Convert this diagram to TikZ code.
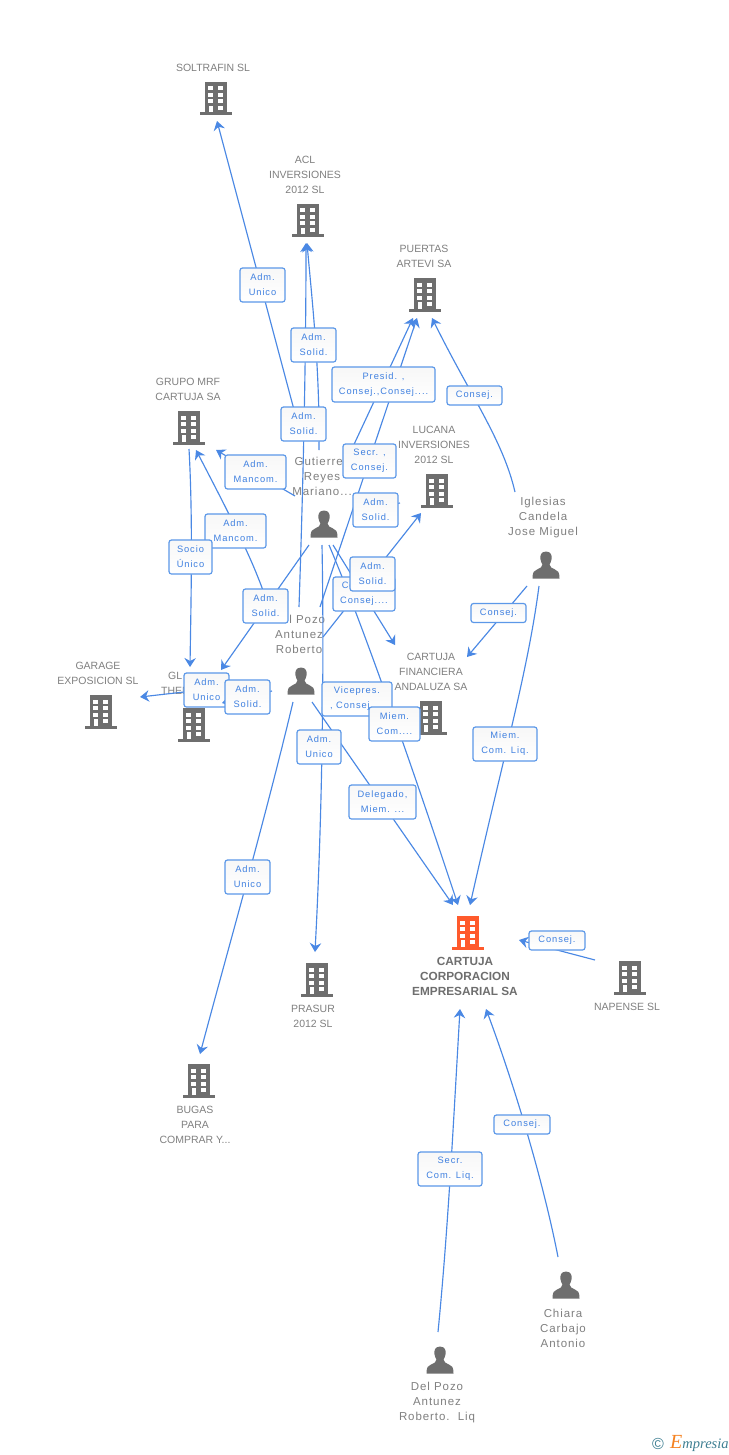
\documentclass[tikz,border=0pt]{standalone}
\usepackage{fontspec}
\setmainfont{Liberation Sans}
\newfontfamily\lblfont[LetterSpace=10]{Liberation Sans}
\newfontfamily\perfont[LetterSpace=8]{Liberation Sans}
\newfontfamily\logofont{Liberation Serif}
\usetikzlibrary{arrows.meta}
\definecolor{icongrey}{HTML}{6E6E6E}
\definecolor{iconorange}{HTML}{FF5A2C}
\definecolor{textgrey}{HTML}{808080}
\definecolor{edgeblue}{HTML}{4A88E4}
\definecolor{boxblue}{HTML}{5C98E8}
\definecolor{lbltext}{HTML}{3F80E0}
\definecolor{logoteal}{HTML}{3E7F92}
\definecolor{logoorange}{HTML}{F58220}
\tikzset{
  x=1pt,y=-1pt,
  edge/.style={draw=edgeblue,line width=1.15pt,-{Stealth[length=9pt,width=11.5pt,inset=3pt]}},
  plainedge/.style={draw=edgeblue,line width=1.15pt},
  lbl/.style={draw=boxblue,line width=1.2pt,rounded corners=2.5pt,fill=white,top color=black!3,bottom color=white,
    text=lbltext,font=\lblfont\fontsize{9.3}{15}\selectfont,align=center,inner sep=0pt},
  comp/.style={text=textgrey,font=\fontsize{10.5}{15}\selectfont,align=center,inner sep=0pt},
  main/.style={text=icongrey,font=\bfseries\fontsize{11.8}{15}\selectfont,align=center,inner sep=0pt},
  pers/.style={text=textgrey,font=\perfont\fontsize{11.5}{15}\selectfont,align=center,inner sep=0pt},
  pics/bldg/.style={code={
    \fill[#1] (-11,-16) rectangle (11,15);
    \fill[#1] (-16,14.5) rectangle (16,17.5);
    \foreach \r in {-11.5,-5,1.5}{
      \fill[white] (-7.8,\r) rectangle (-3,\r+4);
      \fill[white] (2.4,\r) rectangle (7.2,\r+4);
    }
    \fill[white] (-7.4,8) rectangle (-3,14.5);
    \fill[white] (2.4,8) rectangle (7.2,12.2);
  }},
  pics/person/.style={code={
    \fill[icongrey] (0,-13.5) .. controls (-5,-13.5) and (-6.2,-9) .. (-5.6,-6)
      .. controls (-5.2,-3.5) and (-4.2,-1.5) .. (-3.6,-0.5)
      .. controls (-3.6,2.5) and (-6,3) .. (-9,4.5)
      .. controls (-12,5.5) and (-13.5,7) .. (-13.5,13.5)
      -- (13.5,13.5)
      .. controls (13.5,7) and (12,5.5) .. (9,4.5)
      .. controls (6,3) and (3.6,2.5) .. (3.6,-0.5)
      .. controls (4.2,-1.5) and (5.2,-3.5) .. (5.6,-6)
      .. controls (6.2,-9) and (5,-13.5) .. (0,-13.5) -- cycle;
  }}
}
\begin{document}
\begin{tikzpicture}
\useasboundingbox (0,0) rectangle (728,1455);
\fill[white] (0,0) rectangle (728,1455);

% texts
\node[comp] (tSol) at (213,68) {SOLTRAFIN SL};
\node[comp] (tAcl) at (305,175) {ACL\\INVERSIONES\\2012 SL};
\node[comp] (tPue) at (424,256.5) {PUERTAS\\ARTEVI SA};
\node[comp] (tGru) at (188,389.5) {GRUPO MRF\\CARTUJA SA};
\node[comp] (tLuc) at (434,445) {LUCANA\\INVERSIONES\\2012 SL};
\node[comp] (tGar) at (98,673.5) {GARAGE\\EXPOSICION SL};
\node[comp,anchor=north west,align=left] (tGlo) at (161,672) {\hspace{7pt}GL\\THEM};
\node[comp] (tFin) at (431,672) {CARTUJA\\FINANCIERA\\ANDALUZA SA};
\node[main] (tCar) at (465,976) {CARTUJA\\CORPORACION\\EMPRESARIAL SA};
\node[comp] (tNap) at (627,1007) {NAPENSE SL};
\node[comp] (tPra) at (313,1016.5) {PRASUR\\2012 SL};
\node[comp] (tBug) at (195,1125) {BUGAS\\PARA\\COMPRAR Y...};
\node[pers] (tGut) at (322,476) {Gutierrez\\Reyes\\Mariano...};
\node[pers] (tIgl) at (543,518) {Iglesias\\Candela\\Jose Miguel};
\node[pers] (tDel) at (299,634) {Del Pozo\\Antunez\\Roberto};
\node[pers] (tChi) at (563,1328) {Chiara\\Carbajo\\Antonio};
\node[pers] (tLiq) at (437,1403) {Del Pozo\\Antunez\\Roberto.\ \ Liq};

% icons
\pic at (216,98) {bldg=icongrey};
\pic at (308,220) {bldg=icongrey};
\pic at (425,294) {bldg=icongrey};
\pic at (189,427) {bldg=icongrey};
\pic at (437,490) {bldg=icongrey};
\pic at (101,711) {bldg=icongrey};
\pic at (194,724) {bldg=icongrey};
\pic at (431,717) {bldg=icongrey};
\pic at (468,932) {bldg=iconorange};
\pic at (630,977) {bldg=icongrey};
\pic at (317,979) {bldg=icongrey};
\pic at (199,1080) {bldg=icongrey};
\pic at (324,524) {person};
\pic at (546,565) {person};
\pic at (301,681) {person};
\pic at (566,1285) {person};
\pic at (440,1360) {person};

% free ends of connectors
\coordinate (gutSol) at (301,436);
\coordinate (endSol) at (217,121);
\coordinate (gutAcl) at (319,450);
\coordinate (endAclA) at (307,243);
\coordinate (delAcl) at (299,607);
\coordinate (endAclB) at (306,243);
\coordinate (gutPue) at (350,453);
\coordinate (endPueA) at (413,318);
\coordinate (delPue) at (320,607);
\coordinate (endPueB) at (417,318);
\coordinate (iglPue) at (515,492);
\coordinate (endPueC) at (432,318);
\coordinate (gutGru) at (295,496);
\coordinate (endGruA) at (216,450);
\coordinate (delGru) at (270,612);
\coordinate (endGruB) at (196,450);
\coordinate (gruGlo) at (189,449);
\coordinate (endGloA) at (190,667);
\coordinate (gutGlo) at (309,545);
\coordinate (endGloB) at (221,670);
\coordinate (delGloS) at (272,691);
\coordinate (endGloC) at (222,703);
\coordinate (delGar) at (184,692);
\coordinate (endGar) at (140,697);
\coordinate (gutPra) at (322,545);
\coordinate (endPra) at (315,952);
\coordinate (delBug) at (293,702);
\coordinate (endBug) at (200,1054);
\coordinate (delLuc) at (323,637);
\coordinate (endLuc) at (421,513);
\coordinate (gutLuc) at (390,505);
\coordinate (endLucB) at (400,503);
\coordinate (gutFin) at (333,545);
\coordinate (endFin) at (395,645);
\coordinate (iglFin) at (527,586);
\coordinate (endFinB) at (467,657);
\coordinate (gutCar) at (329,545);
\coordinate (endCarA) at (458,905);
\coordinate (delCar) at (312,702);
\coordinate (endCarB) at (453,905);
\coordinate (iglCar) at (539,586);
\coordinate (endCarC) at (470,905);
\coordinate (napCar) at (595,960);
\coordinate (endCarD) at (519,940);
\coordinate (liqCar) at (438,1332);
\coordinate (endCarE) at (460,1009);
\coordinate (chiCar) at (558,1257);
\coordinate (endCarF) at (486,1009);

% connectors
\draw[edge] (gutSol) -- (endSol);
\draw[edge] (gutAcl) .. controls (320,370) and (312,300) .. (endAclA);
\draw[edge] (delAcl) .. controls (304,460) and (306,340) .. (endAclB);
\draw[edge] (gutPue) -- (endPueA);
\draw[edge] (delPue) -- (endPueB);
\draw[edge] (iglPue) .. controls (503,440) and (470,395) .. (endPueC);
\draw[edge] (gutGru) -- (endGruA);
\draw[edge] (delGru) .. controls (258,570) and (235,525) .. (endGruB);
\draw[edge] (gruGlo) .. controls (193,520) and (191,600) .. (endGloA);
\draw[edge] (gutGlo) -- (endGloB);
\draw[edge] (delGar) -- (endGar);
\draw[edge] (gutPra) .. controls (324,650) and (323,800) .. (endPra);
\draw[edge] (delBug) .. controls (265,820) and (225,960) .. (endBug);
\draw[edge] (delLuc) -- (endLuc);
\draw[plainedge] (gutLuc) -- (endLucB);
\draw[edge] (gutFin) -- (endFin);
\draw[edge] (iglFin) -- (endFinB);
\draw[edge] (gutCar) .. controls (365,630) and (420,790) .. (endCarA);
\draw[edge] (delCar) -- (endCarB);
\draw[edge] (iglCar) .. controls (528,670) and (505,750) .. (endCarC);
\draw[edge] (napCar) -- (endCarD);
\draw[edge] (liqCar) .. controls (448,1230) and (453,1130) .. (endCarE);
\draw[edge] (chiCar) .. controls (545,1190) and (518,1095) .. (endCarF);

% connector labels
\node[lbl,minimum width=45pt,minimum height=34pt] (l01) at (262.5,285) {Adm.\\Unico};
\node[lbl,minimum width=45pt,minimum height=34pt] (l02) at (313.5,345) {Adm.\\Solid.};
\node[lbl,minimum width=103pt,minimum height=35pt] (l03) at (383.5,384.5) {Presid. ,\\Consej.,Consej....};
\node[lbl,minimum width=45pt,minimum height=34pt] (l04) at (303.5,424) {Adm.\\Solid.};
\node[lbl,minimum width=53pt,minimum height=34pt] (l05) at (369.5,461) {Secr. ,\\Consej.};
\node[lbl,minimum width=61pt,minimum height=34pt] (l06) at (255.5,472) {Adm.\\Mancom.};
\node[lbl,minimum width=45pt,minimum height=34pt] (l07) at (375.5,510) {Adm.\\Solid.};
\node[lbl,minimum width=61pt,minimum height=34pt] (l08) at (235.5,531) {Adm.\\Mancom.};
\node[lbl,minimum width=43pt,minimum height=34pt] (l09) at (190.5,557) {Socio\\Único};
\node[lbl,minimum width=45pt,minimum height=34pt] (l10) at (265.5,606) {Adm.\\Solid.};
\node[lbl,minimum width=62pt,minimum height=34pt] (l11) at (364,594) {Consej. ,\\Consej....};
\node[lbl,minimum width=45pt,minimum height=34pt] (l12) at (372.5,574) {Adm.\\Solid.};
\node[lbl,minimum width=55pt,minimum height=19pt] (l13) at (498.5,613) {Consej.};
\node[lbl,minimum width=55pt,minimum height=19pt] (l14) at (474.5,395.5) {Consej.};
\node[lbl,minimum width=45pt,minimum height=34pt] (l15) at (206.5,690) {Adm.\\Unico};
\draw[edge] (delGloS) -- (endGloC);
\node[lbl,minimum width=45pt,minimum height=34pt] (l16) at (247.5,697) {Adm.\\Solid.};
\node[lbl,minimum width=70pt,minimum height=34pt] (l17) at (357,699) {Vicepres.\\, Consej....};
\node[lbl,minimum width=51pt,minimum height=34pt] (l18) at (394.5,724) {Miem.\\Com....};
\node[lbl,minimum width=44pt,minimum height=34pt] (l19) at (319,747) {Adm.\\Unico};
\node[lbl,minimum width=67pt,minimum height=34pt] (l20) at (382.5,802) {Delegado,\\Miem. ...};
\node[lbl,minimum width=64pt,minimum height=34pt] (l21) at (505,744) {Miem.\\Com. Liq.};
\node[lbl,minimum width=45pt,minimum height=34pt] (l22) at (247.5,877) {Adm.\\Unico};
\node[lbl,minimum width=56pt,minimum height=19pt] (l23) at (557,940.5) {Consej.};
\node[lbl,minimum width=64pt,minimum height=34pt] (l24) at (450,1169) {Secr.\\Com. Liq.};
\node[lbl,minimum width=56pt,minimum height=19pt] (l25) at (522,1124.5) {Consej.};

% logo
\node[text=logoteal,font=\fontsize{16}{16}\selectfont,inner sep=0pt] (logoC) at (658,1444) {©};
\node[anchor=west,text=logoteal,font=\logofont\itshape\fontsize{14.5}{14}\selectfont,inner sep=0pt] (logoT) at (670,1443) {\textcolor{logoorange}{\fontsize{20}{17}\selectfont E}mpresia};
\end{tikzpicture}
\end{document}
